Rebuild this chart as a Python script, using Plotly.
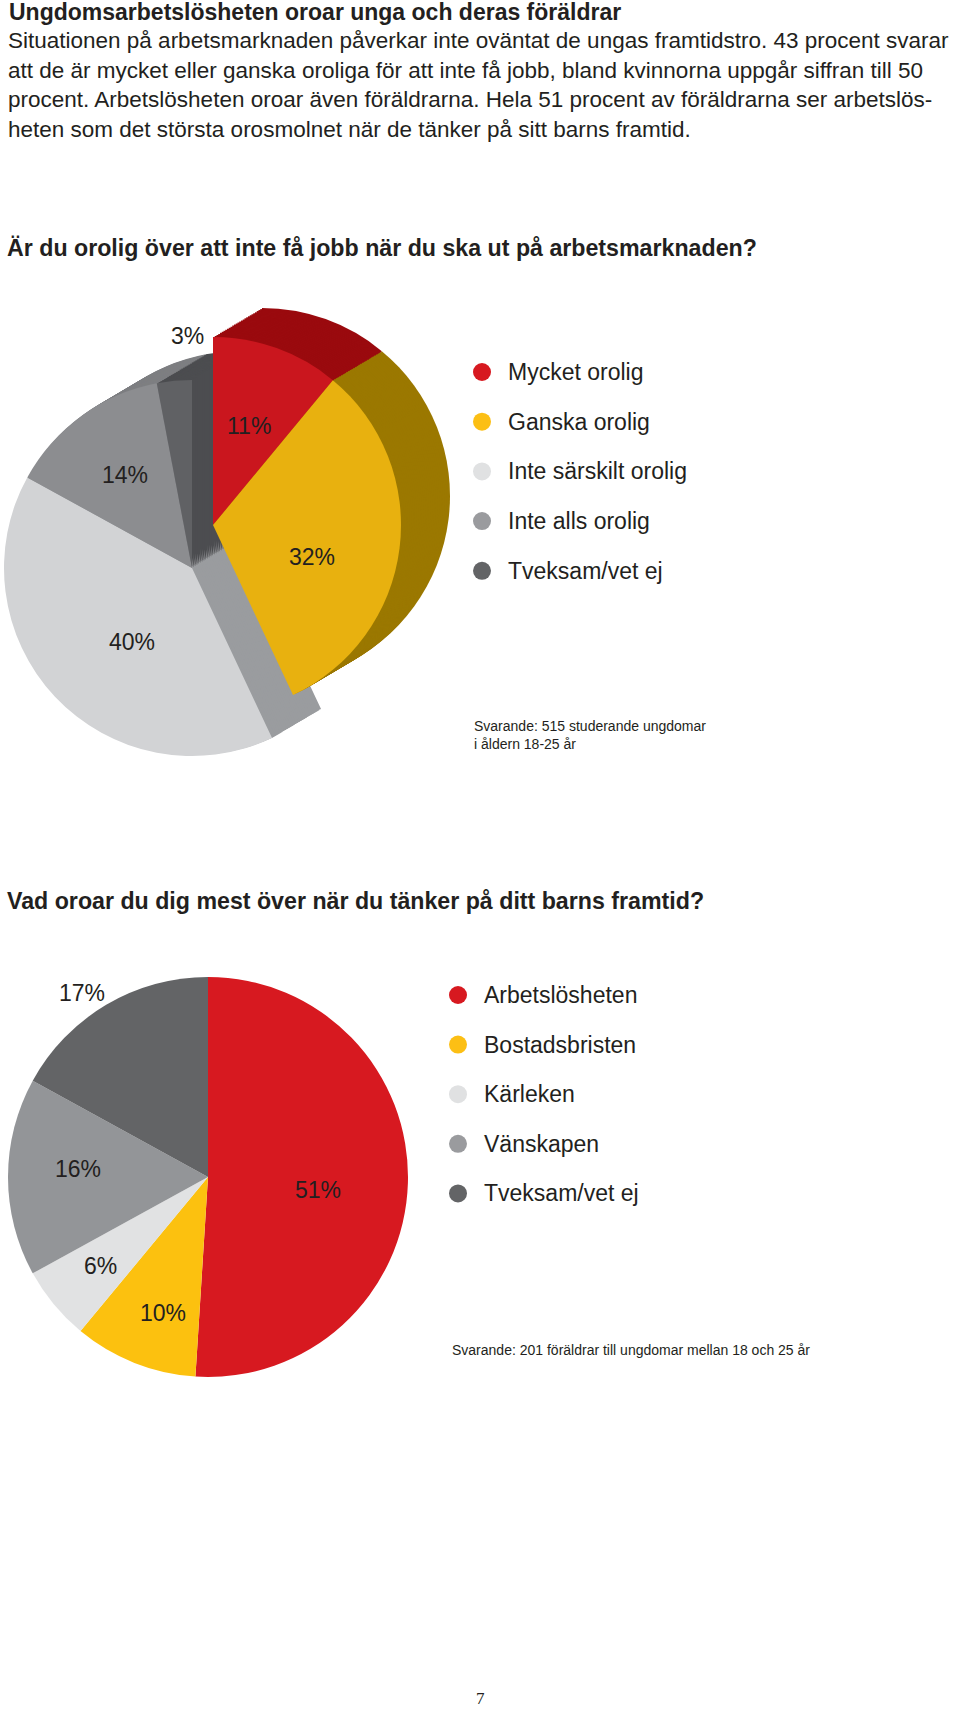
import numpy as np
import plotly.graph_objects as go

W, H = 960, 1710

# --- text / data ---
TITLE = "Ungdomsarbetslösheten oroar unga och deras föräldrar"
INTRO_LINES = [
    "Situationen på arbetsmarknaden påverkar inte oväntat de ungas framtidstro. 43 procent svarar",
    "att de är mycket eller ganska oroliga för att inte få jobb, bland kvinnorna uppgår siffran till 50",
    "procent. Arbetslösheten oroar även föräldrarna. Hela 51 procent av föräldrarna ser arbetslös-",
    "heten som det största orosmolnet när de tänker på sitt barns framtid.",
]

Q1 = "Är du orolig över att inte få jobb när du ska ut på arbetsmarknaden?"
q1_labels = ["Mycket orolig", "Ganska orolig", "Inte särskilt orolig", "Inte alls orolig", "Tveksam/vet ej"]
q1_values = [11, 32, 40, 14, 3]
q1_note = "Svarande: 515 studerande ungdomar<br>i åldern 18-25 år"

Q2 = "Vad oroar du dig mest över när du tänker på ditt barns framtid?"
q2_labels = ["Arbetslösheten", "Bostadsbristen", "Kärleken", "Vänskapen", "Tveksam/vet ej"]
q2_values = [51, 10, 6, 16, 17]
q2_note = "Svarande: 201 föräldrar till ungdomar mellan 18 och 25 år"

PAGE_NO = "7"

# --- styling ---
INK = "#231f20"
FONT = "Liberation Sans, Arial, sans-serif"
CLEAR = "rgba(0,0,0,0)"

front1 = ["#ca161e", "#e8b10f", "#d2d3d5", "#8c8d90", "#606164"]
side1 = ["#9a0a0e", "#9b7800", "#9a9c9f", "#7e7f82", "#4c4d50"]
lifted1 = [True, True, False, False, False]   # slices pushed out of the pie
lab_r1 = [0.56, 0.55, 0.51, 0.61, 1.24]       # label distance, fraction of radius
nudge1 = [(0, 0), (-4, 19), (10, 8), (0, 0), (17, 0)]

colors2 = ["#d71920", "#fcc10f", "#e1e2e3", "#939598", "#636466"]
lab_r2 = [0.55, 0.72, 0.70, 0.66, 1.12]
nudge2 = [(0, 10), (8, 2), (0, 0), (2, -8), (-12, 9)]

dots = ["#d71920", "#fcbf14", "#e0e1e2", "#9a9b9e", "#636466"]

R1, BASE1, LIFT, DEPTH, STEPS = 188, (192, 568), (21, -43), (49, -29), 28
R2, C2 = 200, (208, 1177)


def dom(cx, cy, r):
    return dict(x=[max(0, (cx - r) / W), min(1, (cx + r) / W)],
                y=[max(0, 1 - (cy + r) / H), min(1, 1 - (cy - r) / H)])


def pie(values, labels, colors, cx, cy, r):
    return go.Pie(values=values, labels=labels, sort=False, direction="clockwise", rotation=0,
                  marker=dict(colors=colors, line=dict(width=0)), textinfo="none",
                  hoverinfo="skip", showlegend=False, domain=dom(cx, cy, r))


def mid_angles(values):
    v = np.array(values, dtype=float)
    cum = np.cumsum(v) - v / 2
    return np.radians(cum / v.sum() * 360)


fig = go.Figure()

# pie 1: extruded look, low slices first then the lifted ones
for group in (False, True):
    ox, oy = (LIFT if group else (0, 0))
    cx0, cy0 = BASE1[0] + ox, BASE1[1] + oy
    for k in range(STEPS, 0, -1):
        t = k / STEPS
        cols = [s if l == group else CLEAR for s, l in zip(side1, lifted1)]
        fig.add_trace(pie(q1_values, q1_labels, cols, cx0 + DEPTH[0] * t, cy0 + DEPTH[1] * t, R1))
    cols = [c if l == group else CLEAR for c, l in zip(front1, lifted1)]
    fig.add_trace(pie(q1_values, q1_labels, cols, cx0, cy0, R1))

# pie 2: flat
fig.add_trace(pie(q2_values, q2_labels, colors2, C2[0], C2[1], R2))

# legend dots
leg1_y = [372 + i * 49.7 for i in range(len(q1_labels))]
leg2_y = [995 + i * 49.6 for i in range(len(q2_labels))]
fig.add_trace(go.Scatter(x=[482] * len(q1_labels), y=leg1_y, mode="markers",
                         marker=dict(size=18, color=dots), hoverinfo="skip", showlegend=False))
fig.add_trace(go.Scatter(x=[458] * len(q2_labels), y=leg2_y, mode="markers",
                         marker=dict(size=18, color=dots), hoverinfo="skip", showlegend=False))

ann = []


def txt(x, y, s, size, bold=False, anchor="left", family=FONT):
    ann.append(dict(x=x, y=y, xref="x", yref="y", text=f"<b>{s}</b>" if bold else s,
                    showarrow=False, xanchor=anchor, yanchor="middle", align="left",
                    font=dict(family=family, size=size, color=INK)))


txt(7, 12, TITLE, 23, bold=True)
for i, line in enumerate(INTRO_LINES):
    txt(6, 40.5 + i * 29.7, line, 22.5)
txt(5, 248, Q1, 23.2, bold=True)
txt(5, 901, Q2, 23.2, bold=True)

for lab, y in zip(q1_labels, leg1_y):
    txt(506, y, lab, 23)
for lab, y in zip(q2_labels, leg2_y):
    txt(482, y, lab, 23)

txt(472, 735, q1_note, 14)
txt(450, 1350, q2_note, 14)
txt(480, 1698, PAGE_NO, 17, anchor="center", family="Liberation Serif, serif")

# slice labels
for a, v, f, l, (dx, dy) in zip(mid_angles(q1_values), q1_values, lab_r1, lifted1, nudge1):
    cx = BASE1[0] + (LIFT[0] if l else 0)
    cy = BASE1[1] + (LIFT[1] if l else 0)
    txt(cx + f * R1 * np.sin(a) + dx, cy - f * R1 * np.cos(a) + dy, f"{v}%", 23, anchor="center")
for a, v, f, (dx, dy) in zip(mid_angles(q2_values), q2_values, lab_r2, nudge2):
    txt(C2[0] + f * R2 * np.sin(a) + dx, C2[1] - f * R2 * np.cos(a) + dy, f"{v}%", 23, anchor="center")

fig.update_layout(
    width=W, height=H, margin=dict(l=0, r=0, t=0, b=0),
    paper_bgcolor="white", plot_bgcolor="rgba(0,0,0,0)",
    xaxis=dict(range=[0, W], visible=False, fixedrange=True),
    yaxis=dict(range=[H, 0], visible=False, fixedrange=True),
    annotations=ann,
)

fig.write_html("out.html", config={"displayModeBar": False},
               post_script="document.body.style.margin='0px';")
